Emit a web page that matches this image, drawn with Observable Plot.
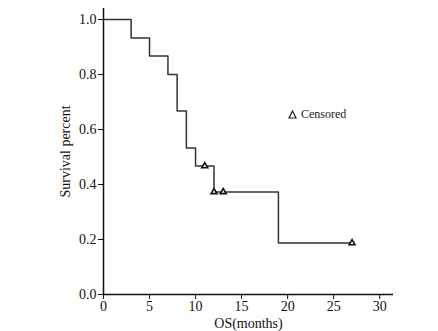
<!DOCTYPE html>
<html><head><meta charset="utf-8">
<script src="https://cdn.jsdelivr.net/npm/d3@7"></script>
<script src="https://cdn.jsdelivr.net/npm/@observablehq/plot@0.6"></script>
<style>
body{margin:0;background:#fff;}
#wrap{position:relative;width:438px;height:331px;font-family:"Liberation Serif","Times New Roman",serif;}
#wrap svg text{font-family:"Liberation Serif","Times New Roman",serif !important;font-size:14px !important;}
#legend{position:absolute;left:288px;top:107px;font-size:12px;color:#222;display:flex;align-items:center;gap:4px;}
</style></head>
<body><div id="wrap"><div id="legend"><svg width="9" height="9"><path d="M4.5,1 L8,8 L1,8 Z" fill="none" stroke="#222" stroke-width="1.2"/></svg><span>Censored</span></div></div>
<script>
const stepTimes = [0, 3, 5, 7, 8, 9, 10, 12, 19, 27];
const stepSurv  = [1.0, 0.933, 0.867, 0.8, 0.667, 0.533, 0.467, 0.373, 0.187, 0.187];
const censTimes = [11, 12, 13, 27];
const censSurv  = [0.467, 0.373, 0.373, 0.187];
const xTicks = [0, 5, 10, 15, 20, 25, 30];
const yTicks = [0, 0.2, 0.4, 0.6, 0.8, 1.0];

const steps = stepTimes.map((t, i) => ({t, s: stepSurv[i]}));
const cens = censTimes.map((t, i) => ({t, s: censSurv[i]}));

const chart = Plot.plot({
  width: 438, height: 331,
  marginLeft: 103, marginRight: 45, marginTop: 8, marginBottom: 37,
  style: {fontFamily: '"Liberation Serif","Times New Roman",serif', fontSize: "14px", color: "#111", background: "#fff"},
  x: {domain: [0, 31.5]},
  y: {domain: [0, 1.04]},
  marks: [
    Plot.ruleX([0], {stroke: "#111", strokeWidth: 1.5}),
    Plot.ruleY([0], {stroke: "#111", strokeWidth: 1.5}),
    Plot.axisX({ticks: xTicks, tickSize: 5, tickFormat: d3.format("d"), label: "OS(months)", labelAnchor: "center", labelArrow: "none", labelOffset: 33, tickPadding: 2}),
    Plot.axisY({ticks: yTicks, tickSize: 5, tickFormat: d3.format(".1f"), label: "Survival percent", labelAnchor: "center", labelArrow: "none", labelOffset: 43, tickPadding: 2}),
    Plot.line(steps, {x: "t", y: "s", curve: "step-after", stroke: "#333", strokeWidth: 1.5}),
    Plot.dot(cens, {x: "t", y: "s", symbol: "triangle", r: 2.2, stroke: "#111", strokeWidth: 1.6, fill: "#fff"})
  ]
});
document.getElementById("wrap").prepend(chart);
</script></body></html>
